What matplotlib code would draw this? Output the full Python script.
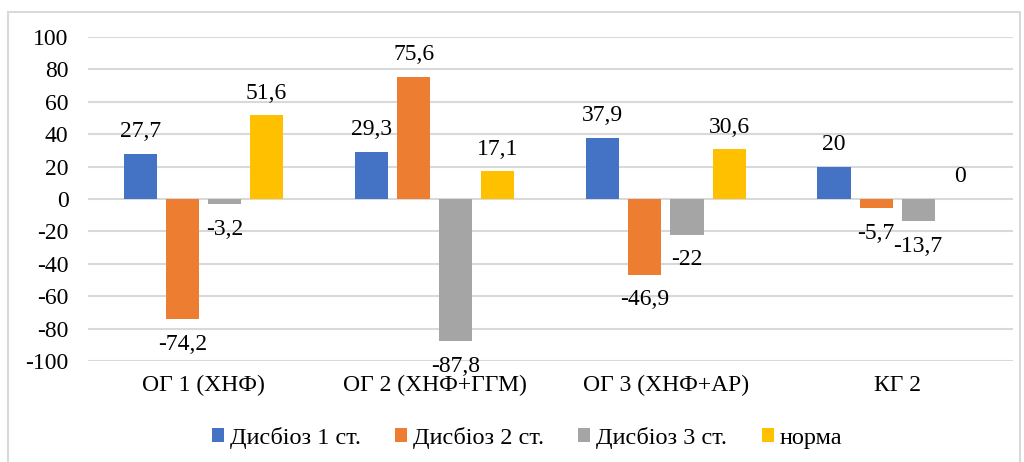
import matplotlib
matplotlib.use("Agg")
import matplotlib.pyplot as plt
from matplotlib.patches import Rectangle
import numpy as np

categories = ["ОГ 1 (ХНФ)", "ОГ 2 (ХНФ+ГГМ)", "ОГ 3 (ХНФ+АР)", "КГ 2"]
series_names = ["Дисбіоз 1 ст.", "Дисбіоз 2 ст.", "Дисбіоз 3 ст.", "норма"]
dysbiosis_1 = [27.7, 29.3, 37.9, 20]
dysbiosis_2 = [-74.2, 75.6, -46.9, -5.7]
dysbiosis_3 = [-3.2, -87.8, -22, -13.7]
norm = [51.6, 17.1, 30.6, 0]
y_ticks = [-100, -80, -60, -40, -20, 0, 20, 40, 60, 80, 100]

colors = ["#4472C4", "#ED7D31", "#A5A5A5", "#FFC000"]

plt.rcParams["font.family"] = ["Liberation Serif", "DejaVu Serif"]

fig = plt.figure(figsize=(10.24, 4.62), dpi=100)
ax = fig.add_axes([0.0859, 0.2186, 0.9031, 0.7013])

# light frame around the whole chart
fig.patches.append(Rectangle((8 / 1024, -0.05), 1012 / 1024, 1 - 12 / 462 + 0.05,
                             transform=fig.transFigure, fill=False,
                             edgecolor="#d9d9d9", linewidth=1.5))

x = np.arange(len(categories))
step = 0.182
width = 0.143
all_series = [dysbiosis_1, dysbiosis_2, dysbiosis_3, norm]
for i, (vals, name, col) in enumerate(zip(all_series, series_names, colors)):
    pos = x + (i - 1.5) * step
    ax.bar(pos, vals, width=width, color=col, label=name, zorder=3)
    for px, v in zip(pos, vals):
        txt = f"{v:g}".replace(".", ",")
        off = 16 if v >= 0 else -18
        ax.annotate(txt, (px, v), xytext=(0, off), textcoords="offset points",
                    ha="center", va="center", fontsize=17, color="black",
                    zorder=4)

ax.set_ylim(-100, 100)
ax.set_xlim(-0.5, len(categories) - 0.5)
ax.set_yticks(y_ticks)
ax.set_yticklabels([str(t) for t in y_ticks])
ax.set_xticks(x)
ax.set_xticklabels(categories)
ax.tick_params(axis="y", length=0, pad=14, labelsize=17)
ax.tick_params(axis="x", length=0, pad=10, labelsize=17)
ax.grid(axis="y", color="#d9d9d9", linewidth=1.5, zorder=0)
for s in ax.spines.values():
    s.set_visible(False)

fig.legend(loc="center", bbox_to_anchor=(527 / 1024, 1 - 438 / 462), ncol=4,
           frameon=False, fontsize=17.5, handlelength=0.5, handleheight=0.5,
           handletextpad=0.25, columnspacing=1.4, borderaxespad=0)

fig.savefig("out.png", dpi=100)
